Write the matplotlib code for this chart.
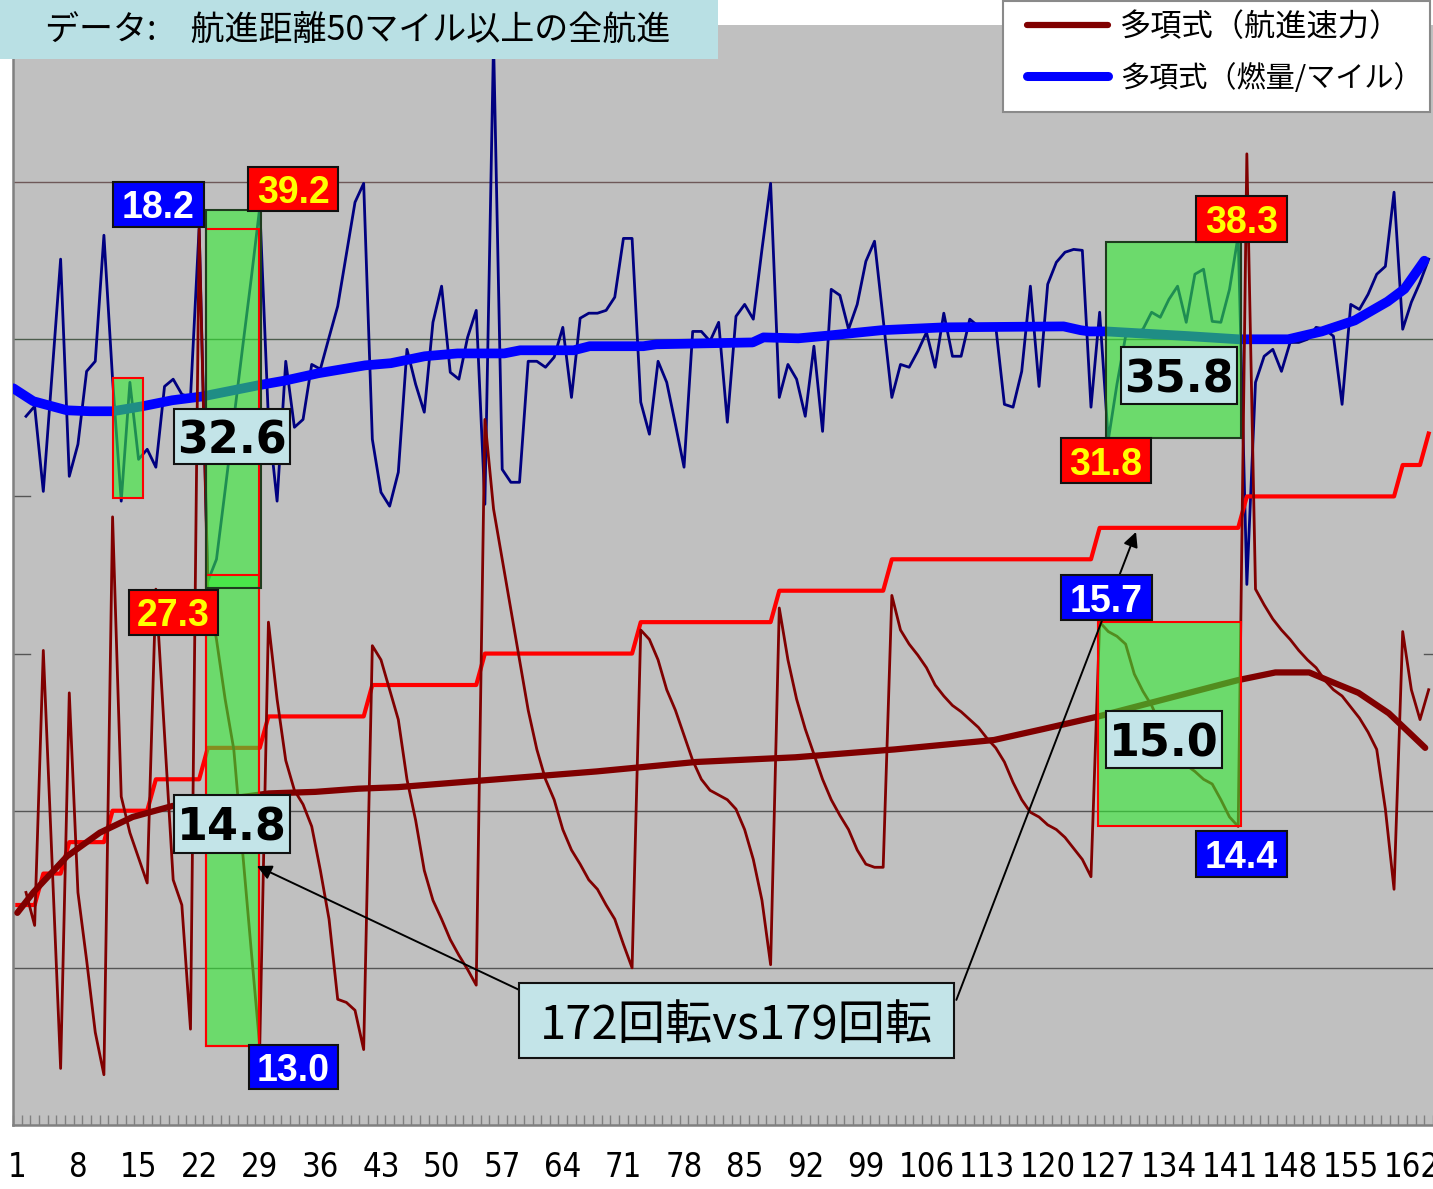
import numpy as np
import matplotlib
matplotlib.use('Agg')
import matplotlib.pyplot as plt
from matplotlib.patches import Rectangle
from matplotlib.lines import Line2D
from matplotlib import font_manager as fm

plt.rcParams['font.family'] = ['Noto Sans CJK JP', 'DejaVu Sans']

nan = np.nan
# ---------------- data ----------------
idx = np.arange(1, 165)

fuel = [nan, 32.55, 32.87, 30.16, 33.85, 37.55, 30.64, 31.66, 33.98, 34.30,
        38.31, 33.73, 29.85, 33.63, 31.18, 31.50, 30.93, 33.50, 33.73, 33.25,
        33.15, 38.56, 27.3, 28.0, 30.2, 32.45, 34.7, 36.9, 39.2, 32.45,
        29.85, 34.30, 32.20, 32.45, 34.20, 34.05, 35.06, 36.05, 37.70, 39.36,
        39.96, 31.82, 30.13, 29.69, 30.77, 34.68, 33.57, 32.68, 35.54, 36.69,
        33.95, 33.73, 35.06, 35.92, 29.75, 44.5, 30.86, 30.45, 30.45, 34.30,
        34.30, 34.11, 34.43, 35.38, 33.15, 35.67, 35.83, 35.83, 35.92, 36.34,
        38.21, 38.21, 33.0, 31.98, 34.30, 33.63, 32.30, 30.93, 35.25, 35.25,
        34.94, 35.54, 32.36, 35.73, 36.11, 35.64, 37.86, 39.96, 33.15, 34.20,
        33.73, 32.55, 34.78, 32.07, 36.59, 36.40, 35.32, 36.11, 37.48, 38.12,
        35.64, 33.15, 34.20, 34.11, 34.62, 35.22, 34.11, 35.83, 34.46, 34.46,
        35.64, 35.41, 35.38, 35.41, 32.93, 32.84, 33.98, 36.69, 33.50, 36.75,
        37.45, 37.77, 37.86, 37.83, 32.84, 35.86, 31.8, 33.57, 35.10, 35.16,
        35.32, 35.86, 35.70, 36.27, 36.69, 35.54, 37.07, 37.23, 35.57, 35.54,
        36.59, 38.3, 27.20, 33.63, 34.46, 34.68, 33.98, 34.90, 34.90, 35.0,
        35.38, 35.32, 35.10, 32.93, 36.11, 35.95, 36.43, 37.07, 37.32, 39.68,
        35.32, 36.18, 36.81, 37.55]

speed = [nan, 13.98, 13.77, 15.52, 14.19, 12.86, 15.25, 13.98, 13.55, 13.09,
         12.82, 16.37, 14.59, 14.36, 14.20, 14.04, 15.91, 14.98, 14.06, 13.90,
         13.11, 18.2, 15.91, 15.59, 15.21, 14.89, 14.25, 13.62, 13.0, 15.70,
         15.21, 14.82, 14.63, 14.54, 14.40, 14.12, 13.81, 13.30, 13.28, 13.23,
         12.98, 15.55, 15.46, 15.27, 15.08, 14.70, 14.44, 14.12, 13.93, 13.81,
         13.68, 13.58, 13.49, 13.39, 16.99, 16.42, 16.10, 15.78, 15.46, 15.14,
         14.89, 14.70, 14.57, 14.38, 14.25, 14.16, 14.06, 14.00, 13.90, 13.81,
         13.65, 13.50, 15.65, 15.59, 15.46, 15.27, 15.14, 14.98, 14.82, 14.70,
         14.63, 14.60, 14.57, 14.51, 14.38, 14.19, 13.93, 13.52, 15.79, 15.46,
         15.21, 15.02, 14.86, 14.70, 14.57, 14.47, 14.38, 14.25, 14.16, 14.14,
         14.14, 15.87, 15.65, 15.56, 15.49, 15.41, 15.30, 15.23, 15.17, 15.13,
         15.08, 15.03, 14.96, 14.90, 14.81, 14.68, 14.57, 14.49, 14.46, 14.41,
         14.38, 14.33, 14.26, 14.19, 14.08, 15.7, 15.64, 15.61, 15.56, 15.37,
         15.26, 15.17, 15.05, 14.92, 14.85, 14.79, 14.75, 14.70, 14.67, 14.57,
         14.46, 14.4, 18.68, 15.91, 15.81, 15.72, 15.65, 15.59, 15.52, 15.46,
         15.41, 15.33, 15.27, 15.23, 15.16, 15.09, 15.00, 14.89, 14.51, 14.00,
         15.64, 15.27, 15.08, 15.27]

rpm = [167, 167, 167, 168, 168, 168, 169, 169, 169, 169,
       169, 170, 170, 170, 170, 170, 171, 171, 171, 171,
       171, 171, 172, 172, 172, 172, 172, 172, 172, 173,
       173, 173, 173, 173, 173, 173, 173, 173, 173, 173,
       173, 174, 174, 174, 174, 174, 174, 174, 174, 174,
       174, 174, 174, 174, 175, 175, 175, 175, 175, 175,
       175, 175, 175, 175, 175, 175, 175, 175, 175, 175,
       175, 175, 176, 176, 176, 176, 176, 176, 176, 176,
       176, 176, 176, 176, 176, 176, 176, 176, 177, 177,
       177, 177, 177, 177, 177, 177, 177, 177, 177, 177,
       177, 178, 178, 178, 178, 178, 178, 178, 178, 178,
       178, 178, 178, 178, 178, 178, 178, 178, 178, 178,
       178, 178, 178, 178, 178, 179, 179, 179, 179, 179,
       179, 179, 179, 179, 179, 179, 179, 179, 179, 179,
       179, 179, 180, 180, 180, 180, 180, 180, 180, 180,
       180, 180, 180, 180, 180, 180, 180, 180, 180, 180,
       181, 181, 181, 182]

# polynomial trend lines
fuel_trend_x = [0.54, 2.84, 6.74, 9.38, 12.02, 15.46, 18.9, 22.35, 28.9, 31.98,
                35.77, 41.16, 44.15, 48.05, 51.84, 57.23, 59.07, 65.26, 67.1, 73.3,
                74.79, 80.18, 85.92, 87.18, 91.2, 95.1, 100.84, 108.07, 121.84, 123.79,
                124.82, 126.77, 130.56, 136.3, 142.04, 147.77, 151.65, 155.46, 159.25,
                161.2, 163.5]
fuel_trend_y = [33.44, 33.03, 32.74, 32.71, 32.71, 32.87, 33.06, 33.18, 33.54, 33.69,
                33.92, 34.17, 34.24, 34.46, 34.55, 34.55, 34.65, 34.65, 34.78, 34.78,
                34.84, 34.87, 34.90, 35.06, 35.03, 35.13, 35.29, 35.38, 35.41, 35.29,
                35.25, 35.25, 35.19, 35.10, 35.0, 35.0, 35.25, 35.6, 36.2,
                36.6, 37.5]
speed_trend_x = [1, 2.84, 6.74, 10.52, 14.31, 18.9, 22.0, 30.03, 35.43, 40.36,
                 44.95, 56.43, 67.9, 79.38, 90.86, 102.33, 113.8, 119.5, 125.85, 141.9,
                 146.3, 150.2, 152.8, 155.9, 159.4, 161.7, 163.6]
speed_trend_y = [13.85, 13.98, 14.21, 14.36, 14.46, 14.53, 14.55, 14.61, 14.62, 14.64,
                 14.65, 14.70, 14.75, 14.81, 14.84, 14.89, 14.95, 15.02, 15.10, 15.33,
                 15.38, 15.38, 15.32, 15.25, 15.12, 15.00, 14.90]

xtick_vals = list(range(1, 163, 7))
title = 'データ:　航進距離50マイル以上の全航進'
legend_labels = ['多項式（航進速力）', '多項式（燃量/マイル）']


# ---------------- narrow font for the category labels ----------------
def find_narrow():
    for f in fm.fontManager.ttflist:
        n = f.fname.lower()
        if ('narrow' in n or 'condensed' in n) and 'bold' not in n and 'italic' not in n \
                and 'oblique' not in n and 'light' not in n and 'semi' not in n:
            if any(k in n for k in ('liberation', 'dejavu', 'notosans', 'opensans', 'roboto', 'lato', 'inter')):
                return f.fname
    return None


narrow = find_narrow()
if narrow:
    tick_fp = fm.FontProperties(fname=narrow, size=23.5)
else:
    tick_fp = fm.FontProperties(family=['Liberation Sans', 'DejaVu Sans'], size=22)

# ---------------- figure ----------------
W, H = 1433, 1189
fig = plt.figure(figsize=(W / 100, H / 100), dpi=100)
fig.patch.set_facecolor('white')
L, B, R, T = 13, 1125, 1433, 25
ax = fig.add_axes([L / W, 1 - B / H, (R - L) / W, (B - T) / H])
ax.set_facecolor('#c0c0c0')
XLIM = (0.54, 163.1)
FUEL_LIM = (10, 45)
SPEED_LIM = (12.5, 19.5)
RPM_LIM = (160, 195)

ax_r = ax.twinx()
ax_s = ax.twinx()
ax_top = ax.twinx()
for a in (ax_r, ax_s, ax_top):
    a.set_axis_off()
    a.patch.set_visible(False)

ax.set_xlim(*XLIM)
ax.set_ylim(*FUEL_LIM)
ax_r.set_ylim(*RPM_LIM)
ax_s.set_ylim(*SPEED_LIM)
ax_top.set_ylim(*FUEL_LIM)
for a in (ax_r, ax_s, ax_top):
    a.set_xlim(*XLIM)

# grid / ticks
ax.axhline(40, color='#6e5858', lw=1.0, zorder=1)
ax.axhline(35, color='#4c5c4c', lw=1.0, zorder=1)
ax.axhline(20, color='#555555', lw=1.0, zorder=1)
ax.axhline(15, color='#555555', lw=1.0, zorder=1)
for yv in (30, 25):
    ax.axhline(yv, xmin=0, xmax=0.012, color='#555555', lw=1.0, zorder=1)
ax.axhline(25, xmin=0.994, xmax=1, color='#555555', lw=1.0, zorder=1)

for s in ('top', 'right'):
    ax.spines[s].set_visible(False)
ax.spines['left'].set_color('#808080')
ax.spines['left'].set_linewidth(1.8)
ax.spines['bottom'].set_color('#808080')
ax.spines['bottom'].set_linewidth(1.8)
ax.set_yticks([])
ax.set_xticks(xtick_vals)
ax.set_xticklabels([str(v) for v in xtick_vals], fontproperties=tick_fp)
ax.set_xticks(np.arange(0.5, 165, 1), minor=True)
ax.tick_params(axis='x', which='major', length=0, pad=19)
ax.tick_params(axis='x', which='minor', direction='in', length=7, width=1, color='#808080')

# series
ax.plot(idx, fuel, color='#000080', lw=2.0, zorder=2)
ax.plot(fuel_trend_x, fuel_trend_y, color='#0000ff', lw=7.0,
        solid_capstyle='round', solid_joinstyle='round', zorder=3)
ax_r.plot(idx, rpm, color='#ff0000', lw=3.0)
ax_s.plot(idx, speed, color='#800000', lw=2.0)
ax_s.plot(speed_trend_x, speed_trend_y, color='#800000', lw=4.5,
          solid_capstyle='round', solid_joinstyle='round')

# highlight boxes
GREEN = (52 / 255, 237 / 255, 52 / 255)
DKG = '#1e3c1e'


def hbox(a, x0, x1, y0, y1, ec, fill=True):
    if fill:
        ax_top.add_patch(Rectangle((x0, y0), x1 - x0, y1 - y0, transform=a.transData,
                                   facecolor=GREEN, alpha=0.6, edgecolor='none', zorder=2))
    ax_top.add_patch(Rectangle((x0, y0), x1 - x0, y1 - y0, transform=a.transData,
                               facecolor='none', edgecolor=ec, lw=1.5, zorder=3))


hbox(ax, 12.02, 15.57, 29.95, 33.77, '#ff0000')
hbox(ax_s, 22.80, 28.89, 13.0, 16.0, '#ff0000')   # lower part filled
hbox(ax_s, 22.80, 28.89, 13.0, 18.2, '#ff0000', fill=False)
hbox(ax, 22.80, 29.12, 27.1, 39.1, DKG)
hbox(ax, 126.77, 142.27, 31.85, 38.1, DKG)
hbox(ax_s, 125.86, 142.27, 14.4, 15.7, '#ff0000')

ux = (XLIM[1] - XLIM[0]) / (R - L)
uy = (FUEL_LIM[1] - FUEL_LIM[0]) / (B - T)


def vlabel(cx, cy, wpx, hpx, text, fc, tc, big=False, fs=None, family=None, weight='bold'):
    w, h = wpx * ux, hpx * uy
    ax_top.add_patch(Rectangle((cx - w / 2, cy - h / 2), w, h, facecolor=fc,
                               edgecolor='#111111', lw=1.5, zorder=6))
    if family is None:
        family = ['DejaVu Sans'] if big else ['Liberation Sans', 'DejaVu Sans']
    if fs is None:
        fs = 32 if big else 27
    ax_top.text(cx, cy, text, ha='center', va='center_baseline', color=tc,
                fontsize=fs, fontweight=weight, family=family, zorder=7)


BLUE_BG, RED_BG, CYAN_BG = '#0000ff', '#ff0000', '#c3e4e8'
vlabel(17.3, 39.29, 92, 45, '18.2', BLUE_BG, 'white')
vlabel(32.85, 39.78, 91, 44, '39.2', RED_BG, '#ffff00')
vlabel(19.0, 26.31, 90, 45, '27.3', RED_BG, '#ffff00')
vlabel(32.9, 11.85, 90, 44, '13.0', BLUE_BG, 'white')
vlabel(25.8, 31.92, 117, 55, '32.6', CYAN_BG, 'black', big=True)
vlabel(25.8, 19.58, 117, 58, '14.8', CYAN_BG, 'black', big=True)
vlabel(135.2, 33.86, 117, 57, '35.8', CYAN_BG, 'black', big=True)
vlabel(133.4, 22.28, 117, 57, '15.0', CYAN_BG, 'black', big=True)
vlabel(126.7, 31.14, 91, 45, '31.8', RED_BG, '#ffff00')
vlabel(142.4, 38.84, 92, 46, '38.3', RED_BG, '#ffff00')
vlabel(126.8, 26.78, 92, 45, '15.7', BLUE_BG, 'white')
vlabel(142.4, 18.61, 92, 46, '14.4', BLUE_BG, 'white')

# callout with arrows
arrow_kw = dict(arrowstyle='-|>', color='black', lw=1.4, mutation_scale=22,
                shrinkA=0, shrinkB=0)
ax_top.annotate('', xy=(28.66, 18.24), xytext=(58.95, 14.30), arrowprops=arrow_kw, zorder=5)
ax_top.annotate('', xy=(130.2, 28.87), xytext=(109.45, 13.98), arrowprops=arrow_kw, zorder=5)
vlabel(84.1, 13.32, 439, 75, '172回転vs179回転', CYAN_BG, 'black', fs=34,
       family=['Noto Sans CJK JP', 'DejaVu Sans'], weight='normal')

# title box
fig.add_artist(Rectangle((0, 1 - 59 / H), 718 / W, 59 / H, transform=fig.transFigure,
                         facecolor='#b9e0e4', edgecolor='none', zorder=10))
fig.text(45 / W, 1 - 31 / H, title, ha='left', va='center', fontsize=24.5,
         color='black', zorder=11)

# legend (manual)
fig.add_artist(Rectangle((1003 / W, 1 - 112 / H), 427 / W, 111 / H, transform=fig.transFigure,
                         facecolor='white', edgecolor='#8a8a8a', lw=1.5, zorder=10))
fig.add_artist(Line2D([1027 / W, 1108 / W], [1 - 25 / H] * 2, transform=fig.transFigure,
                      color='#800000', lw=4.5, solid_capstyle='round', zorder=11))
fig.add_artist(Line2D([1027 / W, 1108 / W], [1 - 76 / H] * 2, transform=fig.transFigure,
                      color='#0000ff', lw=6.5, solid_capstyle='round', zorder=11))
fig.text(1120 / W, 1 - 27 / H, legend_labels[0], ha='left', va='center', fontsize=22.5, zorder=12)
fig.text(1120 / W, 1 - 79 / H, legend_labels[1], ha='left', va='center', fontsize=21, zorder=12)

fig.savefig('out.png', dpi=100, facecolor='white')
